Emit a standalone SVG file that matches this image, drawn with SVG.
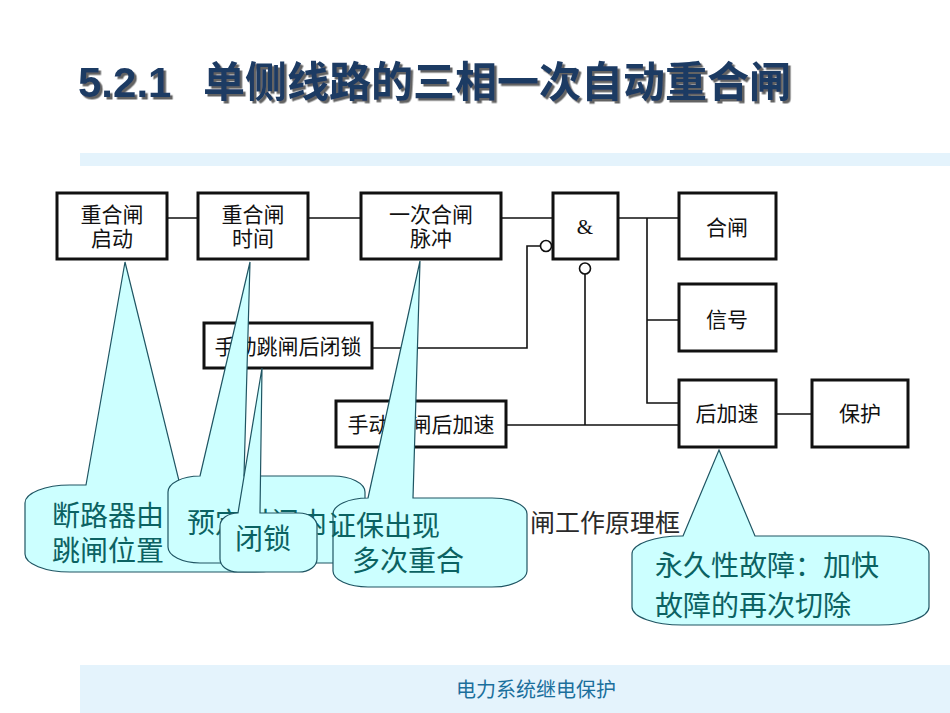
<svg xmlns="http://www.w3.org/2000/svg" width="950" height="713" viewBox="0 0 950 713">
<defs>
<filter id="sh" x="-5%" y="-30%" width="110%" height="160%"><feDropShadow dx="2.5" dy="2.5" stdDeviation="0.5" flood-color="#4a4a4a" flood-opacity="0.85"/></filter>
</defs>
<style>
.box{fill:#fff;stroke:#111;stroke-width:3}
.ln{fill:none;stroke:#111;stroke-width:1.6}
.inv{fill:#fff;stroke:#111;stroke-width:1.6}
.bt{font-family:"Noto Sans CJK SC",sans-serif;font-size:21px;fill:#111;text-anchor:middle}
.co{fill:#ccffff;stroke:#1f5563;stroke-width:1.2}
.ct{font-family:"Noto Sans CJK SC",sans-serif;font-size:28px;fill:#0b6262}
</style>
<rect x="0" y="0" width="950" height="713" fill="#fff"/>
<rect x="80" y="153" width="870" height="13" fill="#e4f3fc"/>
<rect x="80" y="665" width="870" height="48" fill="#e4f3fc"/>
<g id="title" filter="url(#sh)" fill="#1c3a64" font-weight="700">
<text x="78" y="97" font-family="Liberation Sans, sans-serif" font-size="42">5.2.1</text>
<text x="203" y="97" font-family="Noto Sans CJK SC, sans-serif" font-size="42">单侧线路的三相一次自动重合闸</text>
</g>
<g id="connectors">
<path class="ln" d="M167,218 H198 M308,218 H361 M501,218 H553 M618,218 H679 M647,218 V403 H679 M647,320 H679 M776,414 H812"/>
<path class="ln" d="M372,348 H527 V246 H540.5"/>
<path class="ln" d="M506,425 H679 M585,425 V274"/>
<circle class="inv" cx="546" cy="246" r="5.5"/>
<circle class="inv" cx="585" cy="268.5" r="5.5"/>
</g>
<g id="n1"><rect class="box" x="57" y="193" width="110" height="66"/><text class="bt" x="112" y="222">重合闸</text><text class="bt" x="112" y="246">启动</text></g>
<g id="n2"><rect class="box" x="198" y="193" width="110" height="66"/><text class="bt" x="253" y="222">重合闸</text><text class="bt" x="253" y="246">时间</text></g>
<g id="n3"><rect class="box" x="361" y="193" width="140" height="66"/><text class="bt" x="431" y="222">一次合闸</text><text class="bt" x="431" y="246">脉冲</text></g>
<g id="and"><rect class="box" x="553" y="193" width="65" height="66"/><text x="585" y="234" font-family="Liberation Serif, serif" font-size="21" fill="#111" text-anchor="middle">&amp;</text></g>
<g id="n5"><rect class="box" x="679" y="193" width="97" height="66"/><text class="bt" x="727" y="235">合闸</text></g>
<g id="n6"><rect class="box" x="679" y="284" width="97" height="67"/><text class="bt" x="727" y="327">信号</text></g>
<g id="n7"><rect class="box" x="679" y="380" width="97" height="67"/><text class="bt" x="727" y="421">后加速</text></g>
<g id="n8"><rect class="box" x="812" y="380" width="96" height="67"/><text class="bt" x="860" y="421">保护</text></g>
<g id="n9"><rect class="box" x="204" y="323" width="168" height="45"/><text class="bt" x="288" y="354" font-size="22">手动跳闸后闭锁</text></g>
<g id="n10"><rect class="box" x="336" y="401" width="170" height="46"/><text class="bt" x="421" y="432" font-size="22">手动合闸后加速</text></g>
<text id="caption" x="530" y="532" font-family="Noto Sans CJK SC, sans-serif" font-size="25" fill="#2a2a2a">闸工作原理框</text>
<g id="c1"><path class="co" d="M70,485 L86,485 L125,262 L180,485 L255,485 A45 18 0 0 1 300,503 L300,554 A45 18 0 0 1 255,572 L70,572 A45 18 0 0 1 25,554 L25,503 A45 18 0 0 1 70,485 Z"/><text class="ct" x="52" y="526" font-size="29">断路器由</text><text class="ct" x="52" y="561" font-size="29">跳闸位置</text></g>
<g id="c2"><path class="co" d="M200,476 L250,262 L244,476 L333,476 A32 16 0 0 1 365,492 L365,547 A32 16 0 0 1 333,563 L200,563 A32 16 0 0 1 168,547 L168,492 A32 16 0 0 1 200,476 Z"/><text class="ct" x="187" y="533">预定时间内</text></g>
<g id="c3"><path class="co" d="M238,513 L262,368 L260,513 L299,513 A18 13 0 0 1 317,526 L317,559 A18 13 0 0 1 299,572 L238,572 A18 13 0 0 1 220,559 L220,526 A18 13 0 0 1 238,513 Z"/><text class="ct" x="235" y="549" font-size="30">闭锁</text></g>
<g id="c4"><path class="co" d="M368,498 L420,261 L413,498 L492,498 A35 16 0 0 1 527,514 L527,571 A35 16 0 0 1 492,587 L368,587 A35 16 0 0 1 333,571 L333,514 A35 16 0 0 1 368,498 Z"/><text class="ct" x="328" y="536">证保出现</text><text class="ct" x="352" y="571">多次重合</text></g>
<g id="c5"><path class="co" d="M683,536 L719,450 L755,536 L879,536 A50 18 0 0 1 929,554 L929,607 A50 18 0 0 1 879,625 L682,625 A50 18 0 0 1 632,607 L632,554 A50 18 0 0 1 682,536 Z"/><text class="ct" x="655" y="576" font-size="30">永久性故障：加快</text><text class="ct" x="655" y="616" font-size="30">故障的再次切除</text></g>
<text id="footer" x="536" y="697" font-family="Noto Sans CJK SC, sans-serif" font-size="20" fill="#1b6f9c" text-anchor="middle">电力系统继电保护</text>
</svg>
